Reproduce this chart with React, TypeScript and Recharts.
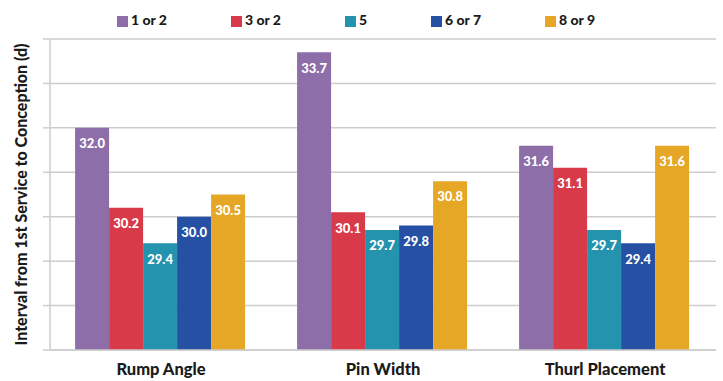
import { BarChart, Bar, XAxis, YAxis, CartesianGrid, LabelList } from 'recharts'

const traits = ['Rump Angle', 'Pin Width', 'Thurl Placement']
const score1or2 = [32.0, 33.7, 31.6]
const score3or2 = [30.2, 30.1, 31.1]
const score5 = [29.4, 29.7, 29.7]
const score6or7 = [30.0, 29.8, 29.4]
const score8or9 = [30.5, 30.8, 31.6]
const seriesNames = ['1 or 2', '3 or 2', '5', '6 or 7', '8 or 9']
const yTicks = [27, 28, 29, 30, 31, 32, 33, 34]
const boundaryTicks = [0, 1, 2, 3]

const colors = ['#8E6EA8', '#D93A4A', '#2493AE', '#2550A3', '#E6A726']
const keys = ['s1', 's2', 's3', 's4', 's5']
const allScores = [score1or2, score3or2, score5, score6or7, score8or9]

const data = traits.map((t, i) => {
  const row: Record<string, string | number> = { trait: t }
  keys.forEach((k, j) => {
    row[k] = allScores[j][i]
  })
  return row
})

const FONT = 'Lato, "Open Sans", sans-serif'
const TEXT = '#1b1b1b'
const GRID = '#cdcdcd'

function YLabel({ viewBox }: any) {
  const cy = viewBox.y + viewBox.height / 2
  const x = 20
  return (
    <text
      x={x}
      y={cy}
      transform={`rotate(-90 ${x} ${cy})`}
      textAnchor="middle"
      dominantBaseline="central"
      fontFamily={FONT}
      fontWeight={900}
      fontSize={16}
      fill={TEXT}
    >
      Interval from 1st Service to Conception (d)
    </text>
  )
}

export default function App() {
  return (
    <div style={{ position: 'relative', width: 723, height: 381, background: '#fff' }}>
      <style>{'body{margin:0}'}</style>
      <div
        style={{
          position: 'absolute',
          top: 11,
          left: 0,
          width: 712,
          display: 'flex',
          justifyContent: 'center',
          gap: 64,
          fontFamily: FONT,
          fontWeight: 900,
          fontSize: 14,
          color: TEXT,
        }}
      >
        {seriesNames.map((name, i) => (
          <div key={name} style={{ display: 'flex', alignItems: 'center' }}>
            <span
              style={{
                width: 11,
                height: 11,
                background: colors[i],
                marginRight: 3,
                marginTop: 3,
                display: 'inline-block',
              }}
            />
            <span>{name}</span>
          </div>
        ))}
      </div>
      <BarChart
        width={723}
        height={381}
        data={data}
        margin={{ top: 39, right: 7, left: 0, bottom: 0 }}
        barCategoryGap="11.3%"
        barGap={0}
      >
        <CartesianGrid vertical={false} stroke={GRID} strokeWidth={1.5} />
        <XAxis
          xAxisId="edge"
          type="number"
          domain={[0, 3]}
          ticks={boundaryTicks}
          height={0}
          axisLine={false}
          tick={false}
          tickSize={5}
          tickLine={{ stroke: GRID, strokeWidth: 1.5 }}
        />
        <XAxis
          xAxisId="cat"
          dataKey="trait"
          height={31}
          axisLine={{ stroke: GRID, strokeWidth: 1.5 }}
          tickLine={false}
          tickMargin={7}
          tick={{ fontFamily: FONT, fontWeight: 900, fontSize: 16.5, fill: TEXT }}
        />
        <YAxis
          domain={[27, 34]}
          ticks={yTicks}
          width={50}
          tickFormatter={() => ''}
          tickSize={7}
          axisLine={{ stroke: GRID, strokeWidth: 1.5 }}
          tickLine={{ stroke: GRID, strokeWidth: 1.5 }}
          label={<YLabel />}
        />
        {keys.map((k, i) => (
          <Bar key={k} dataKey={k} xAxisId="cat" fill={colors[i]} isAnimationActive={false}>
            <LabelList
              dataKey={k}
              position="insideTop"
              offset={11}
              fill="#ffffff"
              fontFamily={FONT}
              fontWeight={900}
              fontSize={13}
              formatter={(v: any) => Number(v).toFixed(1)}
            />
          </Bar>
        ))}
      </BarChart>
    </div>
  )
}
